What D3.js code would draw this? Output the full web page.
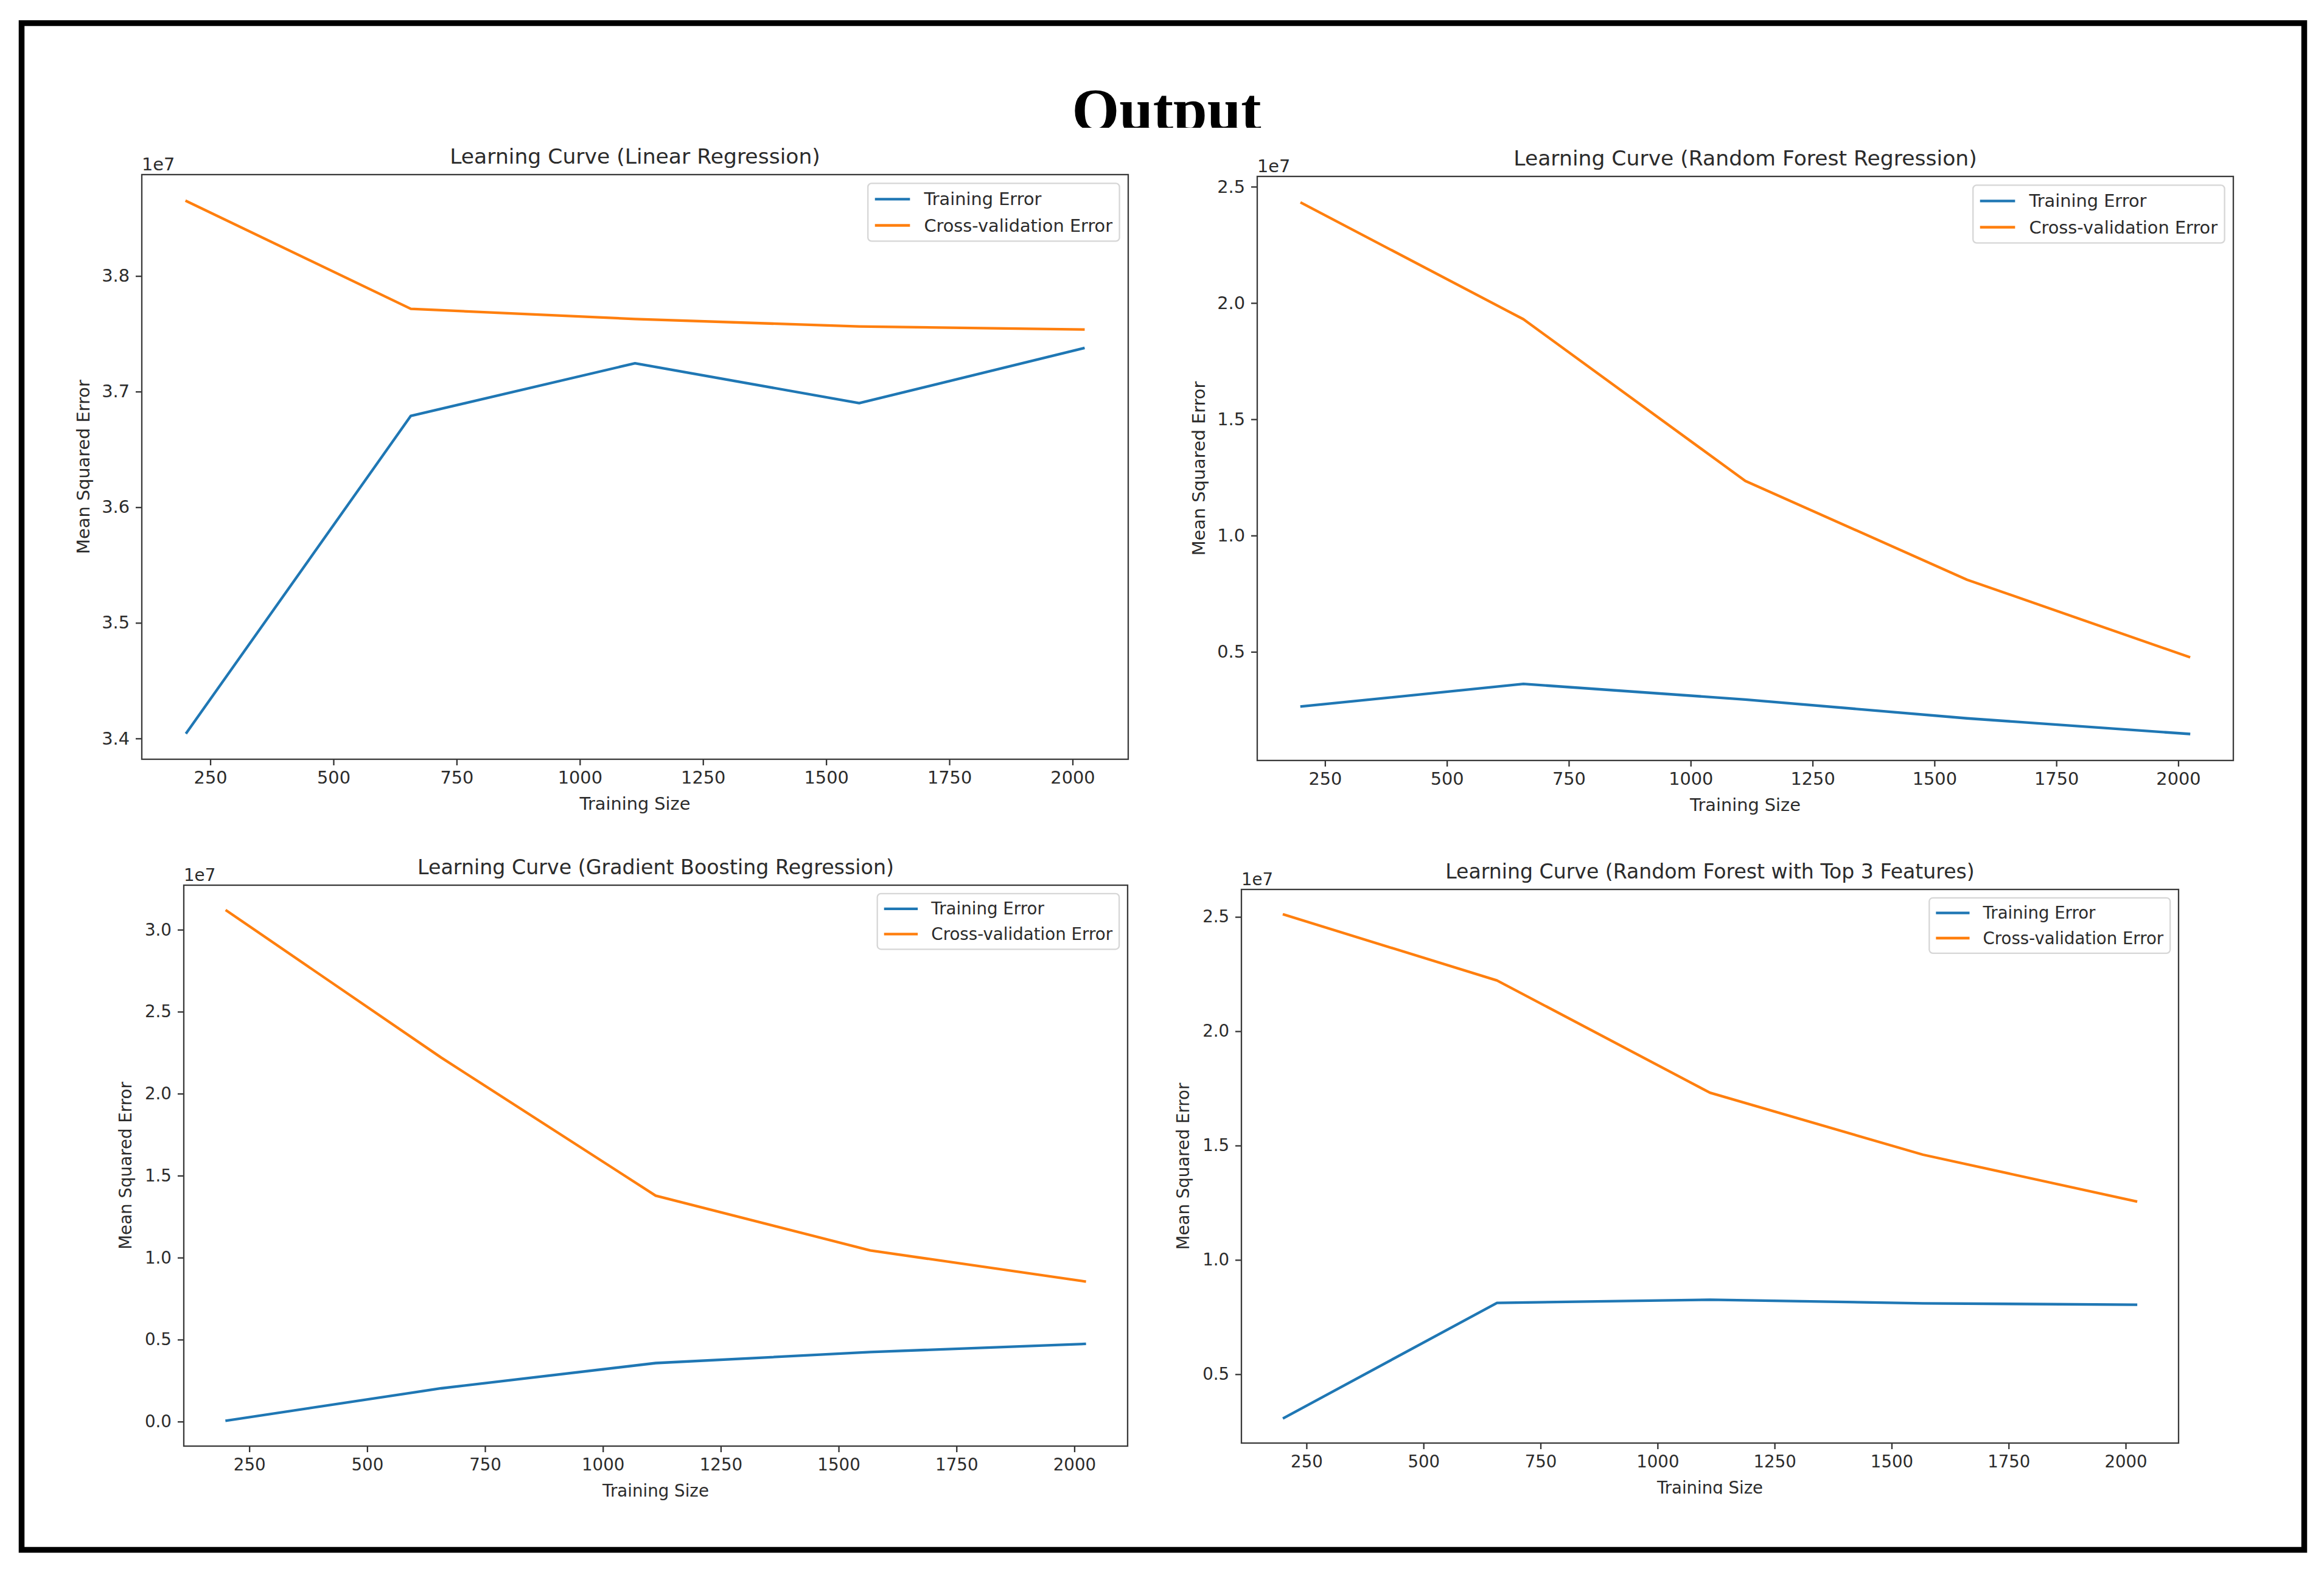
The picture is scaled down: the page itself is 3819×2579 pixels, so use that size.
<!DOCTYPE html>
<html>
<head>
<meta charset="utf-8">
<script src="https://cdn.jsdelivr.net/npm/d3@7"></script>
<style>
  body { margin: 0; background: #fff; }
  svg text { font-family: "DejaVu Sans", sans-serif; fill: #2b2b2b; }
</style>
</head>
<body>
<svg id="fig" width="3819" height="2579"></svg>
<script>
// ---- data (MSE values in units of 1e7) ----
const trainSizes = [202, 657, 1112, 1567, 2022];
const xTicks = [250, 500, 750, 1000, 1250, 1500, 1750, 2000];

const titles = [
  "Learning Curve (Linear Regression)",
  "Learning Curve (Random Forest Regression)",
  "Learning Curve (Gradient Boosting Regression)",
  "Learning Curve (Random Forest with Top 3 Features)"
];

const trainLinear = [3.405, 3.679, 3.7245, 3.690, 3.7375];
const cvLinear    = [3.8647, 3.7716, 3.7628, 3.7563, 3.7537];

const trainRF = [0.265, 0.362, 0.295, 0.214, 0.147];
const cvRF    = [2.43, 1.93, 1.235, 0.81, 0.478];

const trainGB = [0.006, 0.203, 0.357, 0.424, 0.474];
const cvGB    = [3.116, 2.22, 1.378, 1.044, 0.855];

const trainTop3 = [0.309, 0.812, 0.826, 0.81, 0.804];
const cvTop3    = [2.51, 2.222, 1.731, 1.46, 1.256];

const yTicksLinear = [3.4, 3.5, 3.6, 3.7, 3.8];
const yTicksRF     = [0.5, 1.0, 1.5, 2.0, 2.5];
const yTicksGB     = [0.0, 0.5, 1.0, 1.5, 2.0, 2.5, 3.0];
const yTicksTop3   = [0.5, 1.0, 1.5, 2.0, 2.5];

const seriesNames = ["Training Error", "Cross-validation Error"];
const colors = ["#1f77b4", "#ff7f0e"];

// ---- layout (bottom row was pasted in slightly smaller) ----
const panels = [
  { box: [233, 287, 1854, 1248], k: 1, train: trainLinear, cv: cvLinear, yTicks: yTicksLinear },
  { box: [2066, 290, 3670, 1250], k: 1, train: trainRF, cv: cvRF, yTicks: yTicksRF },
  { box: [302, 1455, 1853, 2377], k: 0.962, train: trainGB, cv: cvGB, yTicks: yTicksGB },
  { box: [2040, 1462, 3580, 2372], k: 0.958, train: trainTop3, cv: cvTop3, yTicks: yTicksTop3, clipX: 2456 }
];

const svg = d3.select("#fig");
const defs = svg.append("defs");

// outer frame
svg.append("rect")
  .attr("x", 35.5).attr("y", 38)
  .attr("width", 3751).attr("height", 2509.5)
  .attr("fill", "none").attr("stroke", "#000").attr("stroke-width", 9.5);

// clipped "Output" heading
defs.append("clipPath").attr("id", "headClip")
  .append("rect").attr("x", 0).attr("y", 0).attr("width", 3819).attr("height", 210);
svg.append("text")
  .attr("x", 1917).attr("y", 214)
  .attr("text-anchor", "middle")
  .attr("clip-path", "url(#headClip)")
  .style("font-family", "'Liberation Serif', 'Times New Roman', serif")
  .style("font-weight", "bold")
  .style("font-size", "100px")
  .style("fill", "#000")
  .text("Output");

function padded(vals) {
  const [lo, hi] = d3.extent(vals);
  const m = (hi - lo) * 0.05;
  return [lo - m, hi + m];
}

panels.forEach((p, i) => {
  const [x0, y0, x1, y1] = p.box;
  const fs = 28.8 * p.k, tfs = 34.6 * p.k;
  const g = svg.append("g");

  const x = d3.scaleLinear().domain(padded(trainSizes)).range([x0, x1]);
  const y = d3.scaleLinear().domain(padded(p.train.concat(p.cv))).range([y1, y0]);

  // axes
  const xa = g.append("g").attr("transform", `translate(0,${y1})`)
    .call(d3.axisBottom(x).tickValues(xTicks).tickSize(10).tickPadding(10).tickFormat(d3.format("d")));
  const ya = g.append("g").attr("transform", `translate(${x0},0)`)
    .call(d3.axisLeft(y).tickValues(p.yTicks).tickSize(10).tickPadding(10).tickFormat(d3.format(".1f")));
  [xa, ya].forEach(a => {
    a.select(".domain").remove();
    a.selectAll("line").attr("stroke", "#333").attr("stroke-width", 2.3);
    a.selectAll("text").style("font-size", fs + "px").style("font-family", "'DejaVu Sans', sans-serif").attr("fill", "#2b2b2b");
  });

  // series lines
  const line = d3.line().x((d, k) => x(trainSizes[k])).y(d => y(d));
  [p.train, p.cv].forEach((s, k) => {
    g.append("path").datum(s)
      .attr("d", line)
      .attr("fill", "none")
      .attr("stroke", colors[k])
      .attr("stroke-width", 4.3)
      .attr("stroke-linecap", "square")
      .attr("stroke-linejoin", "round");
  });

  // spines
  g.append("rect")
    .attr("x", x0).attr("y", y0).attr("width", x1 - x0).attr("height", y1 - y0)
    .attr("fill", "none").attr("stroke", "#3a3a3a").attr("stroke-width", 2.3);

  // title, offset text, labels
  g.append("text").attr("x", (x0 + x1) / 2).attr("y", y0 - 18)
    .attr("text-anchor", "middle").style("font-size", tfs + "px").text(titles[i]);
  g.append("text").attr("x", x0).attr("y", y0 - 7)
    .style("font-size", fs + "px").text("1e7");
  g.append("text")
    .attr("transform", `translate(${x0 - 86},${(y0 + y1) / 2}) rotate(-90)`)
    .attr("text-anchor", "middle").style("font-size", fs + "px").text("Mean Squared Error");

  const xl = g.append("text").attr("x", (x0 + x1) / 2).attr("y", y1 + 83)
    .attr("text-anchor", "middle").style("font-size", fs + "px").text("Training Size");
  if (p.clipX) {
    defs.append("clipPath").attr("id", "xlClip" + i)
      .append("rect").attr("x", 0).attr("y", 0).attr("width", 3819).attr("height", p.clipX);
    xl.attr("clip-path", `url(#xlClip${i})`);
  }

  // legend (upper right)
  const lg = g.append("g");
  const rows = seriesNames.map(name => lg.append("text").style("font-size", fs + "px").text(name));
  const textW = d3.max(rows, t => t.node().getComputedTextLength());
  const bp = 0.4 * fs, hl = 2 * fs, htp = 0.8 * fs, ls = 0.5 * fs;
  const w = bp * 2 + hl + htp + textW;
  const h = bp * 2 + 2 * fs + ls;
  const lx = x1 - 0.5 * fs - w, ly = y0 + 0.5 * fs;
  lg.insert("rect", "text")
    .attr("x", lx).attr("y", ly).attr("width", w).attr("height", h)
    .attr("rx", 6).attr("fill", "#fff").attr("fill-opacity", 0.8)
    .attr("stroke", "#d6d6d6").attr("stroke-width", 2.3);
  rows.forEach((t, k) => {
    const cy = ly + bp + fs / 2 + k * (fs + ls);
    lg.append("line")
      .attr("x1", lx + bp).attr("x2", lx + bp + hl)
      .attr("y1", cy).attr("y2", cy)
      .attr("stroke", colors[k]).attr("stroke-width", 4.3);
    t.attr("x", lx + bp + hl + htp).attr("y", cy).attr("dy", "0.35em");
  });
});
</script>
</body>
</html>
